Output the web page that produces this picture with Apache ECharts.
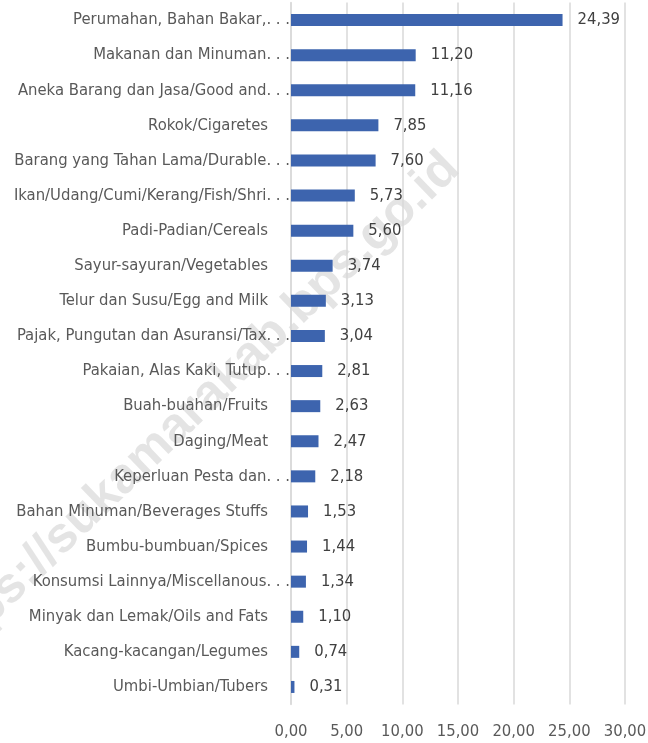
<!DOCTYPE html>
<html>
<head>
<meta charset="utf-8">
<script src="https://cdn.jsdelivr.net/npm/echarts@6/dist/echarts.min.js"></script>
<style>
html,body{margin:0;padding:0;background:#fff;}
#c{width:648px;height:743px;}
</style>
</head>
<body>
<div id="c"></div>
<script>
const categories = [
  "Perumahan, Bahan Bakar,…",
  "Makanan dan Minuman…",
  "Aneka Barang dan Jasa/Good and…",
  "Rokok/Cigaretes",
  "Barang yang Tahan Lama/Durable…",
  "Ikan/Udang/Cumi/Kerang/Fish/Shri…",
  "Padi-Padian/Cereals",
  "Sayur-sayuran/Vegetables",
  "Telur dan Susu/Egg and Milk",
  "Pajak, Pungutan dan Asuransi/Tax…",
  "Pakaian, Alas Kaki, Tutup…",
  "Buah-buahan/Fruits",
  "Daging/Meat",
  "Keperluan Pesta dan…",
  "Bahan Minuman/Beverages Stuffs",
  "Bumbu-bumbuan/Spices",
  "Konsumsi Lainnya/Miscellanous…",
  "Minyak dan Lemak/Oils and Fats",
  "Kacang-kacangan/Legumes",
  "Umbi-Umbian/Tubers"
];
const values = [24.39, 11.20, 11.16, 7.85, 7.60, 5.73, 5.60, 3.74, 3.13, 3.04, 2.81, 2.63, 2.47, 2.18, 1.53, 1.44, 1.34, 1.10, 0.74, 0.31];
const xMin = 0, xMax = 30, xStep = 5;
const watermarkText = "https://sukamarakab.bps.go.id";

const FONT = '"DejaVu Sans Condensed", "Liberation Sans Narrow", "Roboto", sans-serif';
const FS = 16.5;
const fmt = v => v.toFixed(2).replace('.', ',');

const chart = echarts.init(document.getElementById('c'), null, {renderer: 'canvas'});
chart.setOption({
  animation: false,
  backgroundColor: '#ffffff',
  graphic: [{
    type: 'text',
    z: -10,
    x: 192, y: 412,
    rotation: 44 * Math.PI / 180,
    style: {
      text: watermarkText,
      font: 'bold 50px "Liberation Sans", Arial, sans-serif',
      fill: 'rgba(190,190,190,0.42)',
      align: 'center',
      verticalAlign: 'middle'
    }
  }],
  grid: {left: 291, right: 23, top: 2.5, bottom: 38.5, containLabel: false, outerBoundsMode: 'none'},
  xAxis: {
    type: 'value',
    min: xMin, max: xMax, interval: xStep,
    axisLine: {show: false},
    axisTick: {show: false},
    splitLine: {show: true, lineStyle: {color: '#d9d9d9', width: 1.5}},
    axisLabel: {
      margin: 19,
      color: '#595959',
      fontFamily: FONT,
      fontSize: FS,
      formatter: v => fmt(v)
    }
  },
  yAxis: {
    type: 'category',
    inverse: true,
    data: categories,
    axisLine: {show: true, lineStyle: {color: '#d9d9d9', width: 1.5}},
    axisTick: {show: false},
    axisLabel: {
      margin: 1,
      color: '#595959',
      fontFamily: FONT,
      fontSize: FS,
      formatter: v => v.endsWith('…') ? '{e|' + v.slice(0, -1) + '. . .}' : '{n|' + v + '}',
      rich: {
        e: {fontFamily: FONT, fontSize: FS, color: '#595959'},
        n: {fontFamily: FONT, fontSize: FS, color: '#595959', padding: [0, 22, 0, 0]}
      }
    }
  },
  series: [{
    type: 'bar',
    data: values,
    barWidth: 12,
    itemStyle: {color: '#3d64ae'},
    label: {
      show: true,
      position: 'right',
      distance: 15,
      color: '#404040',
      fontFamily: FONT,
      fontSize: FS,
      formatter: p => fmt(p.value)
    }
  }]
});
</script>
</body>
</html>
